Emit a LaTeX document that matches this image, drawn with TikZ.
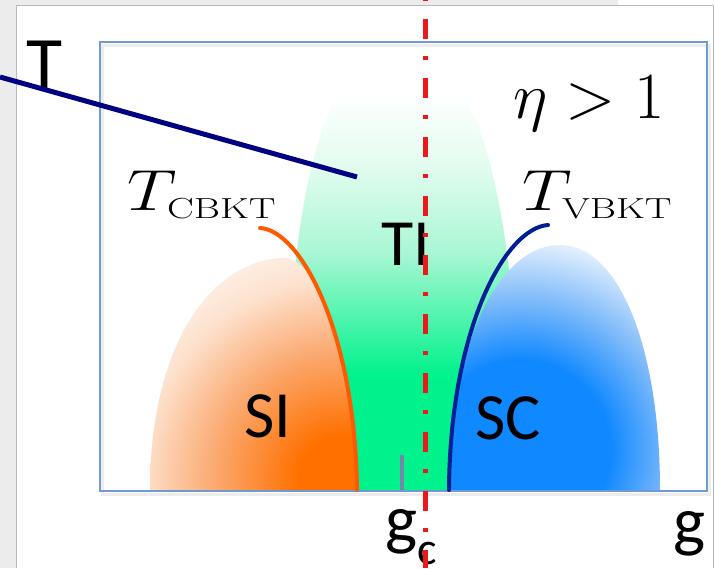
\RequirePackage{fix-cm}
\documentclass[tikz,border=0pt]{standalone}
\usepackage{fontspec}
\usepackage{graphicx}
\newfontfamily\calibri{Carlito}

\definecolor{tigreen}{RGB}{0,242,140}
\definecolor{timint}{RGB}{170,247,212}
\definecolor{tipale}{RGB}{228,252,240}
\definecolor{siorange}{RGB}{255,112,0}
\definecolor{sipeach}{RGB}{251,168,110}
\definecolor{silight}{RGB}{253,225,205}
\definecolor{siwhite}{RGB}{255,248,244}
\definecolor{scblue}{RGB}{16,136,255}
\definecolor{scsky}{RGB}{125,186,250}
\definecolor{scpale}{RGB}{228,240,253}
\definecolor{cbktline}{RGB}{255,90,0}
\definecolor{vbktline}{RGB}{0,30,150}
\definecolor{axisline}{RGB}{0,0,128}
\definecolor{framecol}{RGB}{110,155,210}
\definecolor{gcred}{RGB}{235,25,25}
\definecolor{tickcol}{RGB}{115,135,175}
\definecolor{pagegray}{RGB}{236,236,236}
\definecolor{panelline}{RGB}{185,185,185}

\pgfdeclareverticalshading{tishade}{100bp}{color(0bp)=(tigreen); color(25bp)=(tigreen);
  color(38bp)=(tigreen); color(52bp)=(timint); color(62bp)=(tipale); color(70bp)=(white);
  color(100bp)=(white)}
\pgfdeclareradialshading{sishade}{\pgfpoint{0bp}{0bp}}{color(0bp)=(siorange);
  color(4bp)=(siorange); color(12bp)=(sipeach); color(19bp)=(silight);
  color(25bp)=(siwhite); color(50bp)=(siwhite)}
\pgfdeclareradialshading{scshade}{\pgfpoint{0bp}{0bp}}{color(0bp)=(scblue);
  color(9bp)=(scblue); color(15bp)=(scsky); color(21bp)=(scpale);
  color(25bp)=(white); color(50bp)=(white)}

\newcommand\bktsub[1]{\scalebox{1.15}[1]{$\scriptscriptstyle\mathrm{#1}$}}

\begin{document}
\begin{tikzpicture}[x=1pt,y=-1pt]
  \tikzset{
      frame/.style = {
          draw = framecol,
          line width = 1.6pt
      },
      phase/.style = {
          font = \calibri\fontsize{66}{70}\selectfont,
          anchor = base west,
          inner sep = 0pt
      },
      bktlabel/.style = {
          font = \fontsize{58}{60}\selectfont,
          anchor = base west,
          inner sep = 0pt
      },
      boundary/.style = {
          line width = 4pt,
          line cap = round
      }
  }
  \useasboundingbox (0,0) rectangle (715,568);
  \fill[white] (0,0) rectangle (715,568);
  \fill[pagegray] (0,0) rectangle (618,5);
  \fill[pagegray] (0,0) rectangle (16,568);
  \draw[panelline, line width=1pt] (16.5,568) -- (16.5,5.5) -- (713,5.5) -- (713,568);

  % frame with a soft shadow
  \draw[black, opacity=0.07, line width=3pt] (102,45) rectangle (709,494);
  % TI dome
  \shade[shading=tishade] (285,490) .. controls (285,300) and (300,48) .. (400,48)
      .. controls (490,48) and (520,250) .. (520,490) -- cycle;
  % SI dome
  \begin{scope}
      \clip (150,490) .. controls (150,340) and (215,258) .. (285,258)
          .. controls (320,260) and (355,360) .. (358,490) -- cycle;
      \shade[shading=sishade] (340,478) circle [radius=260pt];
  \end{scope}
  % SC dome
  \begin{scope}
      \clip (448,490) .. controls (450,340) and (500,245) .. (560,245)
          .. controls (620,245) and (660,350) .. (660,490) -- cycle;
      \shade[shading=scshade] (520,450) circle [radius=250pt];
  \end{scope}
  \draw[frame] (100,42) rectangle (707,491);

  \coordinate (cbkttop) at (260,228);
  \coordinate (cbktbot) at (357,490);
  \coordinate (vbkttop) at (548,225);
  \coordinate (vbktbot) at (449,490);
  \draw[boundary, cbktline] (cbkttop) .. controls (300,230) and (355,330) .. (cbktbot);
  \draw[boundary, vbktline] (vbkttop) .. controls (505,228) and (450,330) .. (vbktbot);

  \coordinate (ticktop) at (401.5,455);
  \coordinate (tickbot) at (401.5,490);
  \draw[tickcol, line width=4pt] (ticktop) -- (tickbot);

  \node[phase, font=\calibri\fontsize{74}{76}\selectfont] (taxis) at (26,88) {T};
  \node[phase, font=\calibri\fontsize{68}{70}\selectfont] (gaxis) at (673,544) {g};
  \node[phase, font=\calibri\fontsize{68}{70}\selectfont] (gc) at (385,542)
      {g\raisebox{-22pt}{\fontsize{46}{48}\selectfont c}};
  \node[phase] (ti) at (381,265) {TI};
  \node[phase] (si) at (244,437) {SI};
  \node[phase] (sc) at (475,439) {SC};
  \node[bktlabel] (tcbkt) at (127,210)
      {\scalebox{1.2}[1]{$T_{\bktsub{CBKT}}$}};
  \node[bktlabel] (tvbkt) at (522,210)
      {\scalebox{1.2}[1]{$T_{\bktsub{VBKT}}$}};
  \node[bktlabel, font=\fontsize{66}{68}\selectfont] (eta) at (513,118) {$\eta>1$};

  \coordinate (lstart) at (0,77);
  \coordinate (lend) at (357,177);
  \draw[axisline, line width=5pt] (lstart) -- (lend);

  \coordinate (gctop) at (425.5,0);
  \coordinate (gcbot) at (425.5,568);
  \draw[gcred, line width=5pt, dash pattern=on 20pt off 17pt on 4pt off 18pt,
      dash phase=39.7pt] (gctop) -- (gcbot);
\end{tikzpicture}
\end{document}
